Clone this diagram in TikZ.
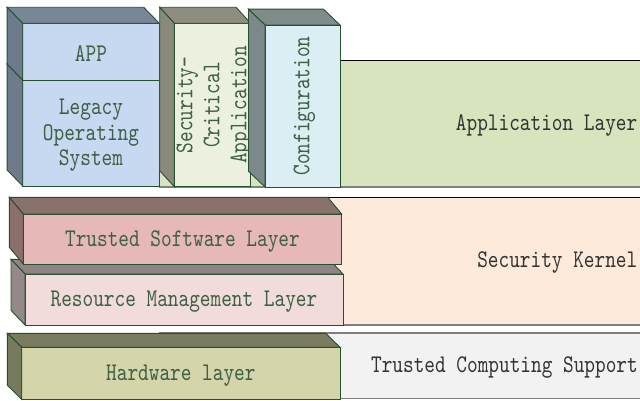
\documentclass[tikz,border=0pt]{standalone}
\usepackage{fontspec}
\setmonofont{lmmono10-regular.otf}[FakeStretch=0.8]
\usetikzlibrary{calc}
\definecolor{edgec}{HTML}{24502E}
\definecolor{boxtxt}{HTML}{3D5F42}
\definecolor{bandtxt}{HTML}{333333}
\definecolor{appband}{HTML}{D7E4BD}
\definecolor{skband}{HTML}{FDEADA}
\definecolor{tcsband}{HTML}{F2F2F2}
\definecolor{bandline}{HTML}{7F7F7F}
\definecolor{appfront}{HTML}{C6D9F1}
\definecolor{apptop}{HTML}{778797}
\definecolor{appside}{HTML}{6D7B8D}
\definecolor{secfront}{HTML}{EBF1DE}
\definecolor{sectop}{HTML}{8E8E7E}
\definecolor{secside}{HTML}{8A8A7B}
\definecolor{conffront}{HTML}{DBEEF4}
\definecolor{conftop}{HTML}{808C8C}
\definecolor{confside}{HTML}{7C898B}
\definecolor{tsfront}{HTML}{E6B9B8}
\definecolor{tstop}{HTML}{8B716C}
\definecolor{tsside}{HTML}{8A6F6B}
\definecolor{rmfront}{HTML}{F2DCDB}
\definecolor{rmtop}{HTML}{8F8383}
\definecolor{rmside}{HTML}{958888}
\definecolor{hwfront}{HTML}{D4D5AA}
\definecolor{hwtop}{HTML}{7B7B60}
\definecolor{hwside}{HTML}{787A5D}
\newcommand\cubefaces[5]{%
  \draw[face, fill=#2] (#1.north west) -- ++(-#4,-#5) -- ([shift={(-#4,-#5)}]#1.north east) -- (#1.north east) -- cycle;
  \draw[face, fill=#3] (#1.north west) -- ++(-#4,-#5) -- ([shift={(-#4,-#5)}]#1.south west) -- (#1.south west) -- cycle;
}
\tikzset{
  face/.style={draw=edgec, line width=0.9pt, line join=miter},
  front/.style={draw=edgec, line width=0.9pt, rectangle, inner sep=0pt, outer sep=0pt,
    anchor=north west},
  boxlabel/.style={text=boxtxt, align=center, inner sep=0pt,
    font=\fontsize{25.4}{25.5}\selectfont\ttfamily},
  vtext/.style={rotate=90, text=boxtxt, align=center, inner sep=0pt,
    font=\fontsize{25.4}{27}\selectfont\ttfamily},
  band/.style={rectangle, draw=none, inner sep=0pt, outer sep=0pt, anchor=north west},
  bandtop/.style={draw=black, line width=0.9pt},
  bandbot/.style={draw=bandline, line width=1.4pt},
  bandlabel/.style={anchor=east, inner sep=0pt, text=bandtxt,
    font=\fontsize{25.4}{25.5}\selectfont\ttfamily},
}
\begin{document}
\begin{tikzpicture}[x=1pt,y=-1pt]
\useasboundingbox[fill=white] (0,0) rectangle (640,401);
% bands
\node[band, fill=appband, minimum width=482pt, minimum height=127pt] (appband) at (159,60) {};
\draw[bandtop] (appband.north west) -- (appband.north east);
\draw[bandbot] (appband.south west) -- (appband.south east);
\node[band, fill=skband, minimum width=482pt, minimum height=128pt] (skband) at (159,197) {};
\draw[bandtop] (skband.north west) -- (skband.north east);
\draw[bandbot] (skband.south west) -- (skband.south east);
\node[band, fill=tcsband, minimum width=482pt, minimum height=65.5pt] (tcsband) at (159,333) {};
\draw[draw=bandline, line width=1.2pt] (tcsband.north west) -- (tcsband.north east);
\draw[bandbot] (tcsband.south west) -- (tcsband.south east);
\node[bandlabel] (applabel) at (637.5,125.2) {Application Layer};
\node[bandlabel] (sklabel) at (637.5,262.3) {Security Kernel};
\node[bandlabel] (tcslabel) at (638,367.5) {Trusted Computing Support};
% top boxes
\node[front, fill=appfront, minimum width=136.6pt, minimum height=106pt] (legacy) at (22.7,80) {};
\cubefaces{legacy}{apptop}{appside}{15.6}{16}
\node[boxlabel] (legacytext) at ([yshift=-2.2pt]legacy.center) {Legacy\\Operating\\System};
\node[front, fill=appfront, minimum width=136.6pt, minimum height=56.7pt] (app) at (22.7,23.3) {};
\cubefaces{app}{apptop}{appside}{15.6}{16}
\node[boxlabel] (apptext) at ([yshift=-1.5pt]app.center) {APP};
\node[front, fill=secfront, minimum width=76.4pt, minimum height=163.4pt] (sec) at (174.3,23.3) {};
\cubefaces{sec}{sectop}{secside}{14.6}{16}
\node[vtext] (sectext) at ([xshift=1.8pt]sec.center) {Security-\\Critical\\Application};
\node[front, fill=conffront, minimum width=75pt, minimum height=162pt] (conf) at (265,25) {};
\cubefaces{conf}{conftop}{confside}{16.5}{15.8}
\node[vtext] (conftext) at ([xshift=1.8pt]conf.center) {Configuration};
% kernel boxes
\node[front, fill=rmfront, minimum width=318pt, minimum height=51pt] (rm) at (25,274) {};
\cubefaces{rm}{rmtop}{rmside}{14}{14.7}
\node[boxlabel] (rmtext) at ([yshift=-2pt]rm.center) {Resource Management Layer};
\node[front, fill=tsfront, minimum width=318.4pt, minimum height=50pt] (ts) at (23.3,214) {};
\cubefaces{ts}{tstop}{tsside}{14}{16.7}
\node[boxlabel] (tstext) at ([yshift=-2pt]ts.center) {Trusted Software Layer};
% hardware
\node[front, fill=hwfront, minimum width=318.3pt, minimum height=52pt] (hw) at (21.7,347.3) {};
\cubefaces{hw}{hwtop}{hwside}{14.3}{14}
\node[boxlabel] (hwtext) at ([yshift=-2pt]hw.center) {Hardware layer};
\end{tikzpicture}
\end{document}
